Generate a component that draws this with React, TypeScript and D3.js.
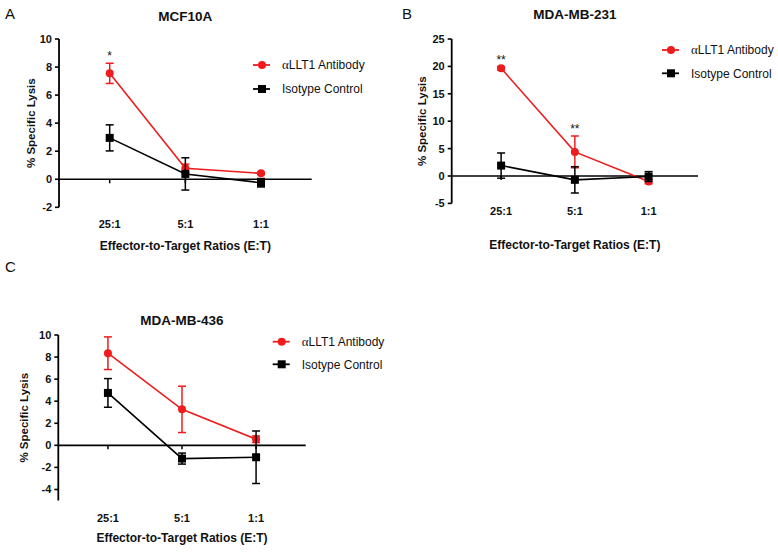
import React from "react";
import * as d3 from "d3";

const categories = ["25:1", "5:1", "1:1"];

const mcf10aAntibody = [7.55, 0.78, 0.42];
const mcf10aAntibodyErr = [0.72, 0.3, 0.08];
const mcf10aIsotype = [2.95, 0.38, -0.25];
const mcf10aIsotypeErr = [0.93, 1.15, 0.3];
const mcf10aStars = ["*", "", ""];

const mb231Antibody = [19.65, 4.4, -1.0];
const mb231AntibodyErr = [0.3, 2.9, 0.4];
const mb231Isotype = [1.9, -0.7, -0.1];
const mb231IsotypeErr = [2.3, 2.4, 0.9];
const mb231Stars = ["**", "**", ""];

const mb436Antibody = [8.35, 3.26, 0.55];
const mb436AntibodyErr = [1.48, 2.1, 0.3];
const mb436Isotype = [4.75, -1.2, -1.08];
const mb436IsotypeErr = [1.3, 0.5, 2.38];
const mb436Stars = ["", "", ""];

const FONT = "'Liberation Sans', Arial, Helvetica, sans-serif";
const RED = "#ee1c1c";
const BLACK = "#000000";

type PanelProps = {
  letter: string;
  letterX: number;
  letterY: number;
  title: string;
  x0: number;
  x1: number;
  yTop: number;
  yBottom: number;
  yDomain: [number, number];
  yTicks: number[];
  antibody: number[];
  antibodyErr: number[];
  isotype: number[];
  isotypeErr: number[];
  stars: string[];
  titleY: number;
  tickLabelY: number;
  xTitleY: number;
  yLabelX: number;
  legendX: number;
  legendY: number;
  legendGap: number;
};

function Panel(p: PanelProps) {
  const x = d3.scalePoint<string>().domain(categories).range([p.x0, p.x1]).padding(0.67);
  const y = d3.scaleLinear().domain(p.yDomain).range([p.yBottom, p.yTop]);
  const cx = (p.x0 + p.x1) / 2;
  const line = d3
    .line<number>()
    .x((_, i) => x(categories[i]) as number)
    .y((d) => y(d));
  const cap = 4;

  const errBars = (vals: number[], errs: number[], color: string) =>
    vals.map((v, i) => {
      const xi = x(categories[i]) as number;
      const yt = y(v + errs[i]);
      const yb = y(v - errs[i]);
      return (
        <g key={i} stroke={color} strokeWidth={1.5}>
          <line x1={xi} x2={xi} y1={yt} y2={yb} />
          <line x1={xi - cap} x2={xi + cap} y1={yt} y2={yt} />
          <line x1={xi - cap} x2={xi + cap} y1={yb} y2={yb} />
        </g>
      );
    });

  const legendRow = (yy: number, color: string, square: boolean, label: React.ReactNode) => (
    <g>
      <line x1={p.legendX - 9} x2={p.legendX + 8} y1={yy} y2={yy} stroke={color} strokeWidth={1.8} />
      {square ? (
        <rect x={p.legendX - 4} y={yy - 4} width={8} height={8} fill={color} />
      ) : (
        <circle cx={p.legendX} cy={yy} r={4} fill={color} />
      )}
      <text x={p.legendX + 20} y={yy + 4.3} fontSize={12} fontFamily={FONT} fill="#111">
        {label}
      </text>
    </g>
  );

  return (
    <g>
      <text x={p.letterX} y={p.letterY} fontSize={15} fontFamily={FONT} fill="#111">
        {p.letter}
      </text>
      <text x={cx} y={p.titleY} fontSize={13.5} fontWeight="bold" fontFamily={FONT} textAnchor="middle" fill="#111">
        {p.title}
      </text>
      {/* y axis */}
      <line x1={p.x0} x2={p.x0} y1={p.yTop} y2={p.yBottom} stroke="#000" strokeWidth={1.8} />
      {p.yTicks.map((t) => (
        <g key={t}>
          <line x1={p.x0 - 4} x2={p.x0} y1={y(t)} y2={y(t)} stroke="#000" strokeWidth={1.6} />
          <text
            x={p.x0 - 7}
            y={y(t) + 4}
            fontSize={11}
            fontWeight="bold"
            fontFamily={FONT}
            textAnchor="end"
            fill="#111"
          >
            {t}
          </text>
        </g>
      ))}
      {/* x axis at zero */}
      <line x1={p.x0} x2={p.x1} y1={y(0)} y2={y(0)} stroke="#000" strokeWidth={1.6} />
      {categories.map((c) => (
        <g key={c}>
          <line x1={x(c)} x2={x(c)} y1={y(0)} y2={y(0) + 4} stroke="#000" strokeWidth={1.5} />
          <text
            x={x(c)}
            y={p.tickLabelY}
            fontSize={11}
            fontWeight="bold"
            fontFamily={FONT}
            textAnchor="middle"
            fill="#111"
          >
            {c}
          </text>
        </g>
      ))}
      <text x={cx} y={p.xTitleY} fontSize={12} fontWeight="bold" fontFamily={FONT} textAnchor="middle" fill="#111">
        Effector-to-Target Ratios (E:T)
      </text>
      <text
        transform={`translate(${p.yLabelX},${(p.yTop + p.yBottom) / 2}) rotate(-90)`}
        fontSize={11.5}
        fontWeight="bold"
        fontFamily={FONT}
        textAnchor="middle"
        dy="0.35em"
        fill="#111"
      >
        % Specific Lysis
      </text>
      {/* antibody series */}
      <path d={line(p.antibody) || ""} fill="none" stroke={RED} strokeWidth={1.6} />
      {errBars(p.antibody, p.antibodyErr, RED)}
      {p.antibody.map((v, i) => (
        <circle key={i} cx={x(categories[i])} cy={y(v)} r={4} fill={RED} />
      ))}
      {/* isotype series */}
      <path d={line(p.isotype) || ""} fill="none" stroke={BLACK} strokeWidth={1.6} />
      {errBars(p.isotype, p.isotypeErr, BLACK)}
      {p.isotype.map((v, i) => (
        <rect key={i} x={(x(categories[i]) as number) - 4} y={y(v) - 4} width={8} height={8} fill={BLACK} />
      ))}
      {/* significance */}
      {p.stars.map((s, i) =>
        s ? (
          <text
            key={i}
            x={x(categories[i])}
            y={y(p.antibody[i] + p.antibodyErr[i]) - 3}
            fontSize={12}
            fontFamily={FONT}
            textAnchor="middle"
            fill="#111"
          >
            {s}
          </text>
        ) : null
      )}
      {legendRow(
        p.legendY,
        RED,
        false,
        <>
          <tspan fontFamily="'Liberation Serif', 'DejaVu Serif', serif" fontSize={13}>
            α
          </tspan>
          <tspan>LLT1 Antibody</tspan>
        </>
      )}
      {legendRow(p.legendY + p.legendGap, BLACK, true, "Isotype Control")}
    </g>
  );
}

export default function App() {
  return (
    <svg
      width={778}
      height={552}
      viewBox="0 0 778 552"
      style={{ position: "absolute", left: 0, top: 0, background: "#fff" }}
    >
      <rect width={778} height={552} fill="#fff" />
      <Panel
        letter="A"
        letterX={5}
        letterY={19}
        title="MCF10A"
        x0={59}
        x1={311.7}
        yTop={39}
        yBottom={207.3}
        yDomain={[-2, 10]}
        yTicks={[-2, 0, 2, 4, 6, 8, 10]}
        antibody={mcf10aAntibody}
        antibodyErr={mcf10aAntibodyErr}
        isotype={mcf10aIsotype}
        isotypeErr={mcf10aIsotypeErr}
        stars={mcf10aStars}
        titleY={20.5}
        tickLabelY={228}
        xTitleY={249.5}
        yLabelX={31}
        legendX={262}
        legendY={65}
        legendGap={24}
      />
      <Panel
        letter="B"
        letterX={402}
        letterY={19}
        title="MDA-MB-231"
        x0={451.7}
        x1={698}
        yTop={39}
        yBottom={203.4}
        yDomain={[-5, 25]}
        yTicks={[-5, 0, 5, 10, 15, 20, 25]}
        antibody={mb231Antibody}
        antibodyErr={mb231AntibodyErr}
        isotype={mb231Isotype}
        isotypeErr={mb231IsotypeErr}
        stars={mb231Stars}
        titleY={19}
        tickLabelY={215}
        xTitleY={248.5}
        yLabelX={421.7}
        legendX={671}
        legendY={50}
        legendGap={23.3}
      />
      <Panel
        letter="C"
        letterX={5}
        letterY={272}
        title="MDA-MB-436"
        x0={58.3}
        x1={305.7}
        yTop={335}
        yBottom={500.5}
        yDomain={[-5, 10]}
        yTicks={[-4, -2, 0, 2, 4, 6, 8, 10]}
        antibody={mb436Antibody}
        antibodyErr={mb436AntibodyErr}
        isotype={mb436Isotype}
        isotypeErr={mb436IsotypeErr}
        stars={mb436Stars}
        titleY={325}
        tickLabelY={521.5}
        xTitleY={542}
        yLabelX={24.3}
        legendX={281.7}
        legendY={341.7}
        legendGap={22.6}
      />
    </svg>
  );
}
